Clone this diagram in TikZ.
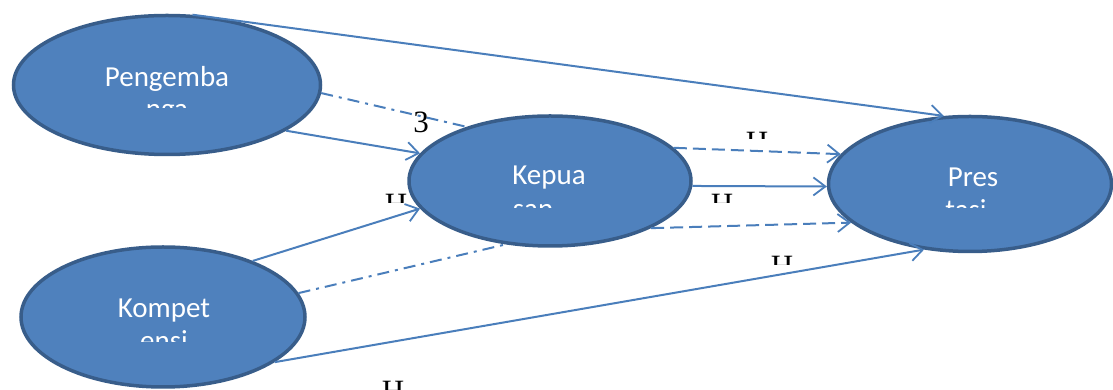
\documentclass[tikz,border=0pt]{standalone}
\usepackage{fontspec}
\setmainfont{Liberation Serif}
\newfontfamily\calibri{Carlito}
\usetikzlibrary{arrows.meta,shapes.geometric}
\definecolor{fillblue}{RGB}{79,129,189}
\definecolor{rimblue}{RGB}{56,93,138}
\definecolor{lineblue}{RGB}{74,126,187}
\tikzset{
  var/.style={ellipse,draw=rimblue,fill=fillblue,line width=3.5pt,inner sep=0pt},
  vtext/.style={font=\calibri\fontsize{29}{33}\selectfont,text=white,inner sep=0pt,anchor=base},
  arr/.style={-{Straight Barb[length=12pt,width=18pt,line width=1.8pt]},line width=2pt,draw=lineblue},
  link/.style={line width=2pt,draw=lineblue},
  dsh/.style={dash pattern=on 13pt off 6pt},
  dshdot/.style={dash pattern=on 12pt off 6pt on 3pt off 6pt},
  hyp/.style={font=\fontsize{31}{36}\selectfont,inner sep=0pt,anchor=base}
}

\begin{document}
\begin{tikzpicture}[x=1pt,y=1pt]
  \useasboundingbox (0,0) rectangle (1113,390);
  \clip (0,0) rectangle (1113,390);
  % variables
  \node[var,minimum width=307pt,minimum height=139pt] (peng) at (167,305) {};
  \node[var,minimum width=282pt,minimum height=130pt] (kep) at (550,209) {};
  \node[var,minimum width=284pt,minimum height=140pt] (komp) at (163,73) {};
  \node[var,minimum width=283pt,minimum height=135pt] (pres) at (970,206) {};
  % names, second lines cut off
  \node[vtext] (pengA) at (167,303) {Pengemba};
  \node[vtext] (kepA) at (549,205) {Kepua};
  \node[vtext] (kompA) at (164,72) {Kompet};
  \node[vtext] (presA) at (973,203) {Pres};
  \begin{scope}
    \clip (0,282) rectangle (330,300);
    \node[vtext] (pengB) at (167,271) {nga};
  \end{scope}
  \begin{scope}
    \clip (400,182) rectangle (700,200);
    \node[vtext] (kepB) at (533,171) {san};
  \end{scope}
  \begin{scope}
    \clip (0,48) rectangle (330,66);
    \node[vtext] (kompB) at (164,39) {ensi};
  \end{scope}
  \begin{scope}
    \clip (820,182) rectangle (1113,200);
    \node[vtext] (presB) at (966,170) {tasi};
  \end{scope}
  % paths
  \draw[arr] (peng.70) -- (pres.111);
  \draw[link,dshdot] (peng.-3) -- (kep.147);
  \draw[arr] (peng.-21) -- (kep.168);
  \draw[arr] (komp.32) -- (kep.-168);
  \draw[link,dshdot] (komp.10) -- (kep.-125);
  \draw[arr] (komp.-22) -- (pres.-125);
  \draw[arr,dsh] (kep.15) -- (pres.167);
  \draw[arr] (kep.-2) -- (pres.181);
  \draw[arr,dsh] (kep.-25) -- (pres.-162);
  % hypotheses
  \node[hyp] (h3) at (421,257) {3};
  \begin{scope}
    \clip (380,187) rectangle (412,200);
    \node[hyp] (h1) at (396,175) {H};
  \end{scope}
  \begin{scope}
    \clip (740,251) rectangle (775,262);
    \node[hyp] (h2) at (757,237) {H};
  \end{scope}
  \begin{scope}
    \clip (705,187) rectangle (740,200);
    \node[hyp] (h4) at (722,175) {H};
  \end{scope}
  \begin{scope}
    \clip (765,125) rectangle (800,140);
    \node[hyp] (h5) at (782,113) {H};
  \end{scope}
  \node[hyp] (h6) at (393,-12) {H};
\end{tikzpicture}
\end{document}
